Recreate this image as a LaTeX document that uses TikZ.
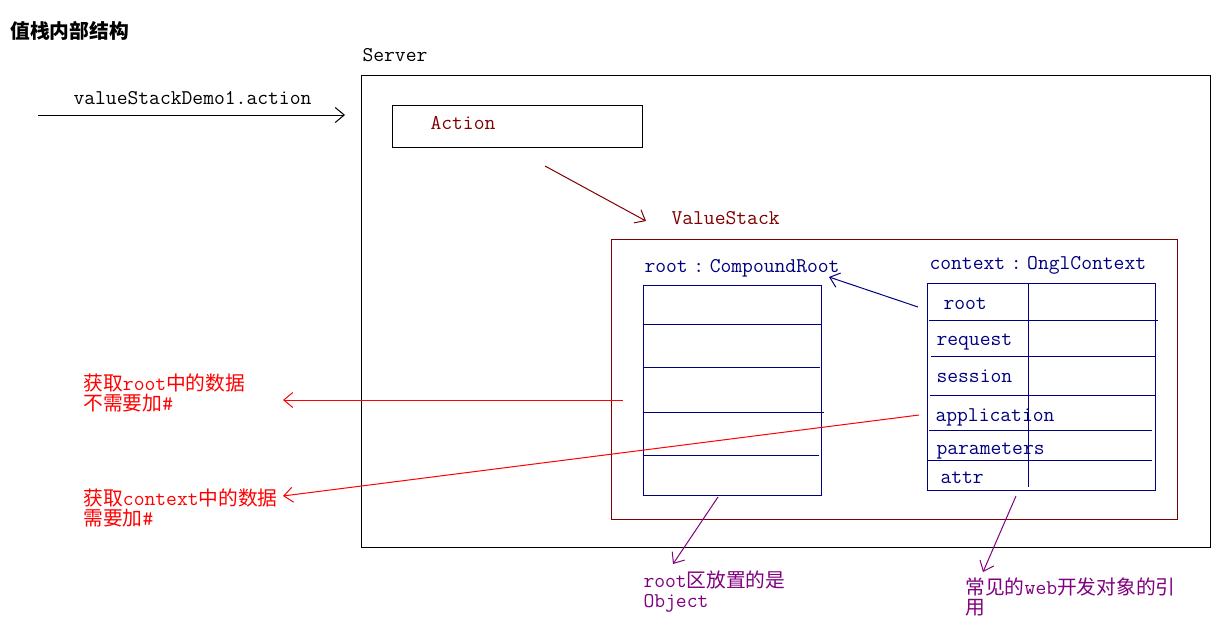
\documentclass[tikz,border=0pt]{standalone}
\usepackage{fontspec}
\newfontfamily\cjk[Scale=0.94]{Noto Sans CJK SC}
\usetikzlibrary{arrows.meta}
\definecolor{dred}{HTML}{800000}
\definecolor{navyb}{HTML}{000080}
\definecolor{purp}{HTML}{800080}
\newcommand{\C}[1]{{\cjk #1}}
\newcommand{\colonw}{\makebox[22pt][c]{:}}
\begin{document}
\begin{tikzpicture}[x=1pt,y=-1pt,line width=1pt,
  every node/.style={inner sep=0pt,anchor=base west,font=\ttfamily\fontsize{21}{24}\selectfont},
  box/.style={draw,anchor=north west,minimum width=#1},
  tipv/.style={-{Straight Barb[length=9pt,width=15pt,line width=1pt]}},
  lbl/.style={text=#1}]
\useasboundingbox (0,0) rectangle (1229,627);
\fill[white] (0,0) rectangle (1229,627);

% title and request
\node (title) at (10,38) {\cjk\bfseries 值栈内部结构};
\node (req) at (73,104) {valueStackDemo1.action};
\coordinate (inS) at (38,115);
\coordinate (inE) at (345,115);
\draw[tipv] (inS) -- (inE);

% server
\node (serverlbl) at (362,61.5) {Server};
\node[box=849pt,minimum height=472pt] (server) at (361,75) {};

% action
\node[box=250pt,minimum height=42pt] (action) at (392,105) {};
\node[lbl=dred] (actionlbl) at (430,129.5) {Action};
\coordinate (aS) at (545,166);
\coordinate (aE) at (646,221);
\draw[dred,tipv] (aS) -- (aE);

% value stack
\node[lbl=dred] (vslbl) at (671,224) {ValueStack};
\node[box=566pt,minimum height=280pt,draw=dred] (vs) at (611,239) {};

% root
\node[lbl=navyb] (rootlbl) at (644,272) {root\colonw CompoundRoot};
\node[box=178pt,minimum height=210pt,draw=navyb] (rootbox) at (643,285) {};
\draw[navyb] (643,324) -- (821,324);
\draw[navyb] (643,367) -- (820,367);
\draw[navyb] (643,412) -- (824,412);
\draw[navyb] (643,455) -- (819,455);

% context
\node[lbl=navyb] (ctxlbl) at (929,269) {context\colonw OnglContext};
\node[box=228pt,minimum height=207pt,draw=navyb] (ctxbox) at (927,283) {};
\draw[navyb] (1028,283) -- (1028,487);
\draw[navyb] (929,320) -- (1158,320);
\draw[navyb] (931,356) -- (1155,356);
\draw[navyb] (930,395) -- (1155,395);
\draw[navyb] (929,430) -- (1152,430);
\draw[navyb] (928,460) -- (1152,460);
\node[lbl=navyb] (r1) at (943,309) {root};
\node[lbl=navyb] (r2) at (936,345) {request};
\node[lbl=navyb] (r3) at (936,382) {session};
\node[lbl=navyb] (r4) at (935,421) {application};
\node[lbl=navyb] (r5) at (936,454) {parameters};
\node[lbl=navyb] (r6) at (940,483) {attr};
\coordinate (bS) at (918,307);
\coordinate (bE) at (829,277);
\draw[navyb,tipv] (bS) -- (bE);

% red notes
\node[lbl=red] (n1a) at (83,390) {\C{获取}root\C{中的数据}};
\node[lbl=red] (n1b) at (83,410) {\C{不需要加}\#};
\node[lbl=red] (n2a) at (83,505) {\C{获取}context\C{中的数据}};
\node[lbl=red] (n2b) at (83,525) {\C{需要加}\#};
\coordinate (r1S) at (623,400);
\coordinate (r1E) at (283,400);
\draw[red,tipv] (r1S) -- (r1E);
\coordinate (r2S) at (919,415);
\coordinate (r2E) at (283,496);
\draw[red,tipv] (r2S) -- (r2E);

% purple notes
\node[lbl=purp] (p1a) at (643,587) {root\C{区放置的是}};
\node[lbl=purp] (p1b) at (643,607) {Object};
\node[lbl=purp] (p2a) at (965,594) {\C{常见的}web\C{开发对象的引}};
\node[lbl=purp] (p2b) at (965,614.5) {\C{用}};
\coordinate (pS) at (718,497);
\coordinate (pE) at (673,564);
\draw[purp,tipv] (pS) -- (pE);
\coordinate (qS) at (1016,496);
\coordinate (qE) at (983,572);
\draw[purp,tipv] (qS) -- (qE);
\end{tikzpicture}
\end{document}
